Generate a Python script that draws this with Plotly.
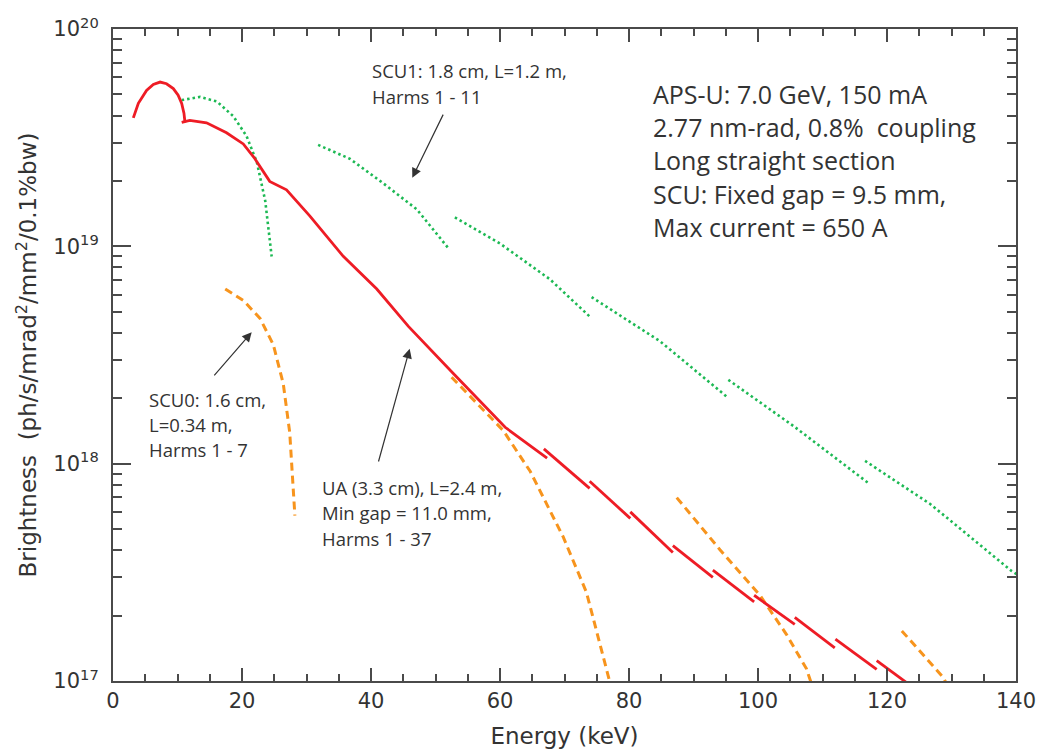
import plotly.graph_objects as go

# ---------------- data ----------------
# UA (3.3 cm) undulator, red solid
ua_h1_E = [3.15, 3.93, 5.2, 6.25, 7.3, 8.3, 9.35, 10.1, 10.65, 11.0, 11.16]
ua_h1_B = [3.9e19, 4.55e19, 5.22e19, 5.56e19, 5.7e19, 5.6e19, 5.32e19, 4.96e19, 4.55e19, 4.1e19, 3.72e19]
ua_main_E = [10.65, 11.9, 14.5, 17.6, 20.2, 22.0, 24.3, 26.9, 30.5, 35.7, 40.9, 45.8, 52.8, 60.8, 67.3]
ua_main_B = [3.72e19, 3.8e19, 3.7e19, 3.33e19, 2.96e19, 2.53e19, 1.99e19, 1.82e19, 1.38e19,
             9.0e18, 6.36e18, 4.28e18, 2.59e18, 1.47e18, 1.06e18]
ua_hi_E_start = [66.8, 73.9, 80.2, 86.8, 93.0, 99.4, 105.7, 112.0, 118.4]
ua_hi_E_end = [73.9, 80.2, 86.8, 93.0, 99.4, 105.7, 111.9, 118.4, 123.5]
ua_hi_B_start = [1.17e18, 8.3e17, 6.0e17, 4.2e17, 3.24e17, 2.48e17, 1.96e17, 1.56e17, 1.24e17]
ua_hi_B_end = [7.7e17, 5.6e17, 3.9e17, 3.0e17, 2.31e17, 1.82e17, 1.42e17, 1.13e17, 9.6e16]

# SCU1 (1.8 cm), green dotted, harmonics 1,3,5,7,9,11
scu1_E = [
    [10.65, 13.5, 16.1, 18.65, 20.7, 22.3, 23.6, 24.6],
    [31.8, 36.7, 41.9, 47.1, 52.0],
    [53.0, 60.0, 67.75, 73.95],
    [74.2, 84.8, 95.1],
    [95.4, 105.5, 117.1],
    [116.6, 126.7, 139.3, 140.5],
]
scu1_B = [
    [4.71e19, 4.87e19, 4.64e19, 3.97e19, 3.22e19, 2.44e19, 1.62e19, 8.98e18],
    [2.93e19, 2.53e19, 1.95e19, 1.48e19, 9.8e18],
    [1.36e19, 1.03e19, 7.05e18, 4.74e18],
    [5.84e18, 3.66e18, 2.04e18],
    [2.43e18, 1.49e18, 8.15e17],
    [1.03e18, 6.52e17, 3.21e17, 3.05e17],
]

# SCU0 (1.6 cm), orange dashed, harmonics 1,3,5,7
scu0_E = [
    [17.4, 20.2, 22.8, 24.85, 26.4, 27.4, 28.2],
    [52.5, 60.5, 64.7, 69.8, 73.4, 76.5, 77.3],
    [87.4, 94.1, 100.3, 104.4, 107.5, 108.4],
    [122.3, 128.7, 129.5],
]
scu0_B = [
    [6.36e18, 5.64e18, 4.66e18, 3.53e18, 2.33e18, 1.39e18, 5.77e17],
    [2.5e18, 1.42e18, 9.2e17, 4.6e17, 2.56e17, 1.14e17, 9.2e16],
    [6.98e17, 4.02e17, 2.48e17, 1.64e17, 1.14e17, 9.5e16],
    [1.7e17, 1.04e17, 9.4e16],
]

x_ticks = [0, 20, 40, 60, 80, 100, 120, 140]
y_ticks = [1e17, 1e18, 1e19, 1e20]
y_ticktext = ["10<sup>17</sup>", "10<sup>18</sup>", "10<sup>19</sup>", "10<sup>20</sup>"]

info_lines = ["APS-U: 7.0 GeV, 150 mA", "2.77 nm-rad, 0.8%  coupling", "Long straight section",
              "SCU: Fixed gap = 9.5 mm,", "Max current = 650 A"]
scu1_lines = ["SCU1: 1.8 cm, L=1.2 m,", "Harms 1 - 11"]
scu0_lines = ["SCU0: 1.6 cm,", "L=0.34 m,", "Harms 1 - 7"]
ua_lines = ["UA (3.3 cm), L=2.4 m,", "Min gap = 11.0 mm,", "Harms 1 - 37"]


def join(seg_x, seg_y):
    xs, ys = [], []
    for sx, sy in zip(seg_x, seg_y):
        xs += list(sx) + [None]
        ys += list(sy) + [None]
    return xs, ys


RED = "#EE1C25"
GREEN = "#1DB954"
ORANGE = "#F7941D"

ua_segs_x = [ua_h1_E, ua_main_E] + [[a, b] for a, b in zip(ua_hi_E_start, ua_hi_E_end)]
ua_segs_y = [ua_h1_B, ua_main_B] + [[a, b] for a, b in zip(ua_hi_B_start, ua_hi_B_end)]

fig = go.Figure()
x, y = join(scu1_E, scu1_B)
fig.add_trace(go.Scatter(x=x, y=y, mode="lines", line=dict(color=GREEN, width=2.6, dash="2.5px,3px"),
                         hoverinfo="skip"))
x, y = join(scu0_E, scu0_B)
fig.add_trace(go.Scatter(x=x, y=y, mode="lines", line=dict(color=ORANGE, width=3, dash="8px,5px"),
                         hoverinfo="skip"))
x, y = join(ua_segs_x, ua_segs_y)
fig.add_trace(go.Scatter(x=x, y=y, mode="lines", line=dict(color=RED, width=2.8),
                         hoverinfo="skip"))

TXT = "#333333"
BIGFONT = dict(family="Open Sans, sans-serif", size=25, color=TXT)
SMALLFONT = dict(family="Open Sans, sans-serif", size=18.5, color=TXT)
AXFONT = "DejaVu Sans, sans-serif"

annotations = []
for i, t in enumerate(info_lines):
    annotations.append(dict(x=83.4, y=19.703 - i * 0.1535, text=t, showarrow=False,
                            xanchor="left", yanchor="middle", font=BIGFONT))
for i, t in enumerate(scu1_lines):
    annotations.append(dict(x=39.8, y=19.807 - i * 0.117, text=t, showarrow=False,
                            xanchor="left", yanchor="middle", font=SMALLFONT))
for i, t in enumerate(scu0_lines):
    annotations.append(dict(x=5.27, y=18.295 - i * 0.115, text=t, showarrow=False,
                            xanchor="left", yanchor="middle", font=SMALLFONT))
for i, t in enumerate(ua_lines):
    annotations.append(dict(x=32.1, y=17.890 - i * 0.117, text=t, showarrow=False,
                            xanchor="left", yanchor="middle", font=SMALLFONT))

arrows = [((51.3, 19.613), (46.4, 19.316)),
          ((15.5, 18.399), (21.5, 18.605)),
          ((41.1, 18.003), (46.0, 18.529))]
for (tx, ty), (hx, hy) in arrows:
    annotations.append(dict(x=hx, y=hy, ax=tx, ay=ty, axref="x", ayref="y", xref="x", yref="y",
                            text="", showarrow=True, arrowhead=2, arrowsize=1.6, arrowwidth=1.2,
                            arrowcolor="#333333"))

AX = "#4a4a4a"
fig.update_layout(
    width=1049, height=750,
    margin=dict(l=105, r=41, t=6, b=77),
    paper_bgcolor="white", plot_bgcolor="white",
    showlegend=False,
    font=dict(family=AXFONT, color=TXT),
    annotations=annotations,
    xaxis=dict(range=[0, 140], tickvals=x_ticks, ticks="inside", ticklen=13, tickwidth=2,
               tickcolor=AX, showline=True, linecolor=AX, linewidth=2, mirror="ticks",
               showgrid=False, zeroline=False,
               minor=dict(dtick=5, ticks="inside", ticklen=7, tickwidth=1.5, tickcolor=AX, showgrid=False),
               tickfont=dict(family=AXFONT, size=21, color=TXT),
               title=dict(text="Energy (keV)", font=dict(family=AXFONT, size=23, color=TXT), standoff=16)),
    yaxis=dict(type="log", range=[16.9999, 20.0001], tickvals=y_ticks, ticktext=y_ticktext,
               ticks="inside", ticklen=18, tickwidth=2, tickcolor=AX,
               showline=True, linecolor=AX, linewidth=2, mirror="ticks",
               showgrid=False, zeroline=False, ticklabeloverflow="allow",
               minor=dict(dtick="D1", ticks="inside", ticklen=9, tickwidth=1.5, tickcolor=AX, showgrid=False),
               tickfont=dict(family=AXFONT, size=21, color=TXT), ticklabelstandoff=8,
               title=dict(text="Brightness  (ph/s/mrad<sup>2</sup>/mm<sup>2</sup>/0.1%bw)",
                          font=dict(family=AXFONT, size=23, color=TXT), standoff=10)),
)

fig.write_html("out.html")
